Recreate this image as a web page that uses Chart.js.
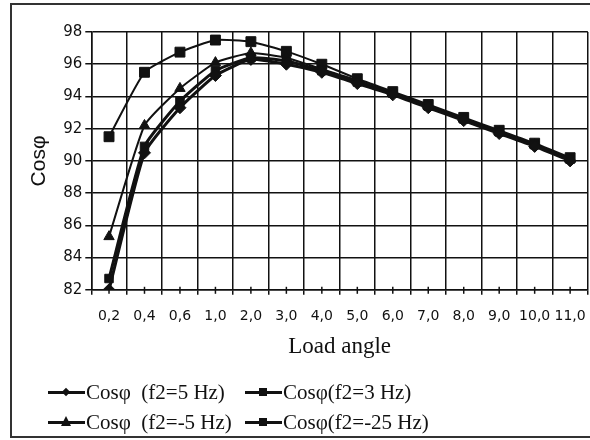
<!DOCTYPE html>
<html lang="en">
<head>
  <meta charset="UTF-8">
  <title>Cosφ vs load angle</title>
  <script src="https://cdn.jsdelivr.net/npm/chart.js"></script>
  <style>
    body {
      margin: 0;
      background: #fff;
      overflow: hidden;
    }

    #wrap {
      position: relative;
      width: 590px;
      height: 440px;
      overflow: hidden;
    }

    #box {
      position: absolute;
      left: 0;
      top: 0;
      width: 599px;
      height: 440px;
    }

    #frame {
      position: absolute;
      left: 10px;
      top: 3px;
      width: 600px;
      height: 431px;
      border: 2px solid #333;
      pointer-events: none;
    }

    #legend {
      position: absolute;
      left: 48px;
      top: 377px;
      font-family: "Liberation Serif", "Times New Roman", serif;
      font-size: 21px;
      color: #111;
    }

    .row {
      display: flex;
      height: 30px;
      align-items: center;
    }

    .item {
      display: flex;
      align-items: center;
      white-space: pre;
    }

    .item.first {
      width: 197px;
    }

    .key {
      position: relative;
      width: 37px;
      height: 14px;
      margin-right: 1px;
    }

    .key::before {
      content: "";
      position: absolute;
      left: 0;
      right: 0;
      top: 6px;
      height: 3px;
      background: #111;
    }

    .mk {
      position: absolute;
      background: #111;
    }

    .diamond {
      width: 6px;
      height: 6px;
      left: 15px;
      top: 4px;
      transform: rotate(45deg);
    }

    .square {
      width: 8px;
      height: 8px;
      left: 14px;
      top: 3px;
    }

    .triangle {
      width: 0;
      height: 0;
      left: 13px;
      top: 1px;
      background: none;
      border-left: 5px solid transparent;
      border-right: 5px solid transparent;
      border-bottom: 10px solid #111;
    }
  </style>
</head>
<body>
  <div id="wrap">
    <div id="box"><canvas id="chart"></canvas></div>
    <div id="frame"></div>
    <div id="legend">
      <div class="row">
        <div class="item first"><span class="key"><span class="mk diamond"></span></span>Cosφ  (f2=5 Hz)</div>
        <div class="item"><span class="key"><span class="mk square"></span></span>Cosφ(f2=3 Hz)</div>
      </div>
      <div class="row">
        <div class="item first"><span class="key"><span class="mk triangle"></span></span>Cosφ  (f2=-5 Hz)</div>
        <div class="item"><span class="key"><span class="mk square"></span></span>Cosφ(f2=-25 Hz)</div>
      </div>
    </div>
  </div>

  <script>
    const loadAngles = ['0,2', '0,4', '0,6', '1,0', '2,0', '3,0', '4,0', '5,0', '6,0', '7,0', '8,0', '9,0', '10,0', '11,0'];

    const cosF5 = [82.0, 90.5, 93.3, 95.3, 96.3, 96.0, 95.5, 94.8, 94.1, 93.3, 92.5, 91.7, 90.9, 90.0];
    const cosF3 = [82.7, 90.9, 93.7, 95.6, 96.4, 96.2, 95.6, 94.9, 94.2, 93.4, 92.6, 91.8, 91.0, 90.1];
    const cosFm5 = [85.3, 92.2, 94.5, 96.1, 96.7, 96.4, 95.7, 95.0, 94.2, 93.4, 92.6, 91.8, 91.0, 90.1];
    const cosFm25 = [91.5, 95.5, 96.75, 97.5, 97.4, 96.8, 96.0, 95.1, 94.3, 93.5, 92.7, 91.9, 91.1, 90.2];

    const yMin = 82;
    const yMax = 98;
    const yStep = 2;

    const tickFamily = "'DejaVu Sans', Verdana, sans-serif";

    // small tick marks at the category centres, like the old spreadsheet chart
    const centreTicks = {
      id: 'centreTicks',
      afterDraw(chart) {
        const x = chart.scales.x;
        const ctx = chart.ctx;
        ctx.save();
        ctx.strokeStyle = '#111';
        ctx.lineWidth = 1.5;
        loadAngles.forEach((_, i) => {
          const px = x.getPixelForValue(i);
          ctx.beginPath();
          ctx.moveTo(px, x.top - 3);
          ctx.lineTo(px, x.top + 4);
          ctx.stroke();
        });
        ctx.restore();
      }
    };

    function series(label, data, style, radius, width) {
      return {
        label: label,
        data: data,
        borderColor: '#111',
        backgroundColor: '#111',
        borderWidth: width,
        pointStyle: style,
        pointRadius: radius,
        pointHoverRadius: radius,
        pointBorderWidth: 1,
        tension: 0.15
      };
    }

    new Chart(document.getElementById('chart'), {
      type: 'line',
      data: {
        labels: loadAngles,
        datasets: [
          series('Cosφ (f2=5 Hz)', cosF5, 'rectRot', 6, 3),
          series('Cosφ(f2=3 Hz)', cosF3, 'rect', 6, 3),
          series('Cosφ (f2=-5 Hz)', cosFm5, 'triangle', 6, 2),
          series('Cosφ(f2=-25 Hz)', cosFm25, 'rect', 7, 2)
        ]
      },
      options: {
        responsive: true,
        maintainAspectRatio: false,
        animation: false,
        layout: {
          padding: { left: 23, right: 0, top: 32, bottom: 80 }
        },
        plugins: {
          legend: { display: false },
          tooltip: { enabled: false }
        },
        scales: {
          x: {
            offset: true,
            grid: {
              offset: true,
              color: '#111',
              lineWidth: 1.5,
              tickLength: 5
            },
            border: { color: '#111', width: 1.5 },
            ticks: {
              color: '#111',
              font: { family: tickFamily, size: 14 },
              maxRotation: 0,
              autoSkip: false,
              padding: 13
            },
            title: {
              display: true,
              text: 'Load angle',
              color: '#111',
              font: { family: "'Liberation Serif', 'Times New Roman', serif", size: 23, lineHeight: 0.8 },
              padding: { top: 0 }
            }
          },
          y: {
            min: yMin,
            max: yMax,
            grid: {
              color: '#111',
              lineWidth: 1.5,
              tickLength: 6
            },
            border: { color: '#111', width: 1.5 },
            ticks: {
              stepSize: yStep,
              color: '#111',
              font: { family: tickFamily, size: 15 },
              padding: 3
            },
            title: {
              display: true,
              text: 'Cosφ',
              color: '#111',
              font: { family: "'Liberation Sans', Arial, sans-serif", size: 21 },
              padding: { bottom: 8 }
            }
          }
        }
      },
      plugins: [centreTicks]
    });
  </script>
</body>
</html>
